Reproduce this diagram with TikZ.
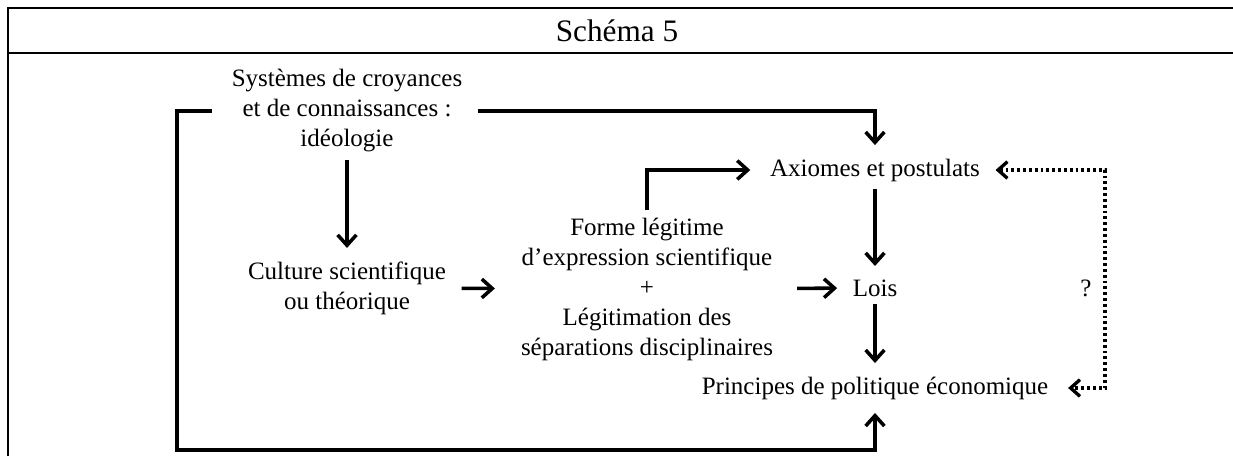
\documentclass[tikz,border=0pt]{standalone}
\usepackage{fontspec}
\setmainfont{Liberation Serif}
\usetikzlibrary{arrows.meta}
\tikzstyle{txt} = [align=center, font=\fontsize{12}{14.4}\selectfont]
\tikzstyle{frame} = [line width=1pt]
\tikzstyle{branch} = [line width=1.7pt, -{Straight Barb[length=5pt,width=9pt]},
                 shorten >=3pt]
\tikzstyle{doubt} = [line width=1.6pt, dash pattern=on 1.4pt off 1.4pt,
                 {Straight Barb[length=4.5pt,width=8pt]}-{Straight Barb[length=4.5pt,width=8pt]},
                 shorten <=4pt, shorten >=6pt]
\begin{document}
\begin{tikzpicture}[x=0.48pt,y=-0.48pt]
\useasboundingbox (0,0) rectangle (1233,456);

%frame
\draw [frame] (8,456) -- (8,8) -- (1233,8);
\draw [line width=0.5pt] (8,53) -- (1233,53);
\draw [frame] (8,53) -- (172,53);
\draw [frame] (1106,53) -- (1233,53);

\node [txt, font=\fontsize{15}{18}\selectfont] at (617,31) (title) {Schéma 5};

\node [txt] at (347,111) (ideo) {Systèmes de croyances\\et de connaissances :\\idéologie};
\node [txt] at (347,288) (cult) {Culture scientifique\\ou théorique};
\node [txt] at (647,289) (forme) {Forme légitime\\d’expression scientifique\\+\\Légitimation des\\séparations disciplinaires};
\node [txt] at (875,170) (axiom) {Axiomes et postulats};
\node [txt] at (875,288) (lois) {Lois};
\node [txt] at (875,388) (princ) {Principes de politique économique};
\node [txt] at (1086,288) (doute) {?};

\coordinate (botL) at (177,450);
\coordinate (dotR) at (1105,388);

%arrows
\draw [branch] ([xshift=-6pt]ideo.west) -| (botL) -| (princ.south);
\draw [branch] ([xshift=4pt]ideo.east) -| (axiom.north);
\draw [branch] (ideo.south) -- (cult.north);
\draw [branch, shorten <=4pt, shorten >=9pt] (cult) -- (forme);
\draw [branch, shorten <=8pt, shorten >=4pt] (forme) -- (lois);
\draw [branch, shorten >=6pt] (forme.north) |- (axiom.west);
\draw [branch] (axiom.south) -- (lois.north);
\draw [branch] (lois.south) -- (princ.north);

%doubt
\draw [doubt] (axiom.east) -| (dotR) -- (princ.east);

\end{tikzpicture}
\end{document}
